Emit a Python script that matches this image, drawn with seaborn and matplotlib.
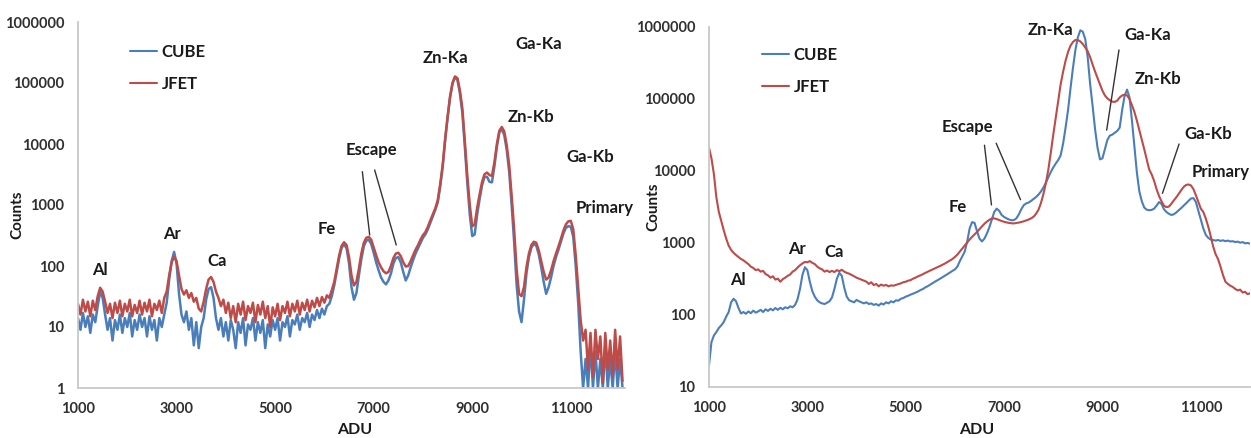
import numpy as np
import matplotlib
matplotlib.use("Agg")
import matplotlib.pyplot as plt
import seaborn as sns

# ---------------- data ----------------
adu = list(range(1000, 12051, 50))

left_cube = [
    14, 9, 17, 10, 15, 8, 16, 12, 22, 38,
    30, 16, 9, 14, 6, 13, 9, 16, 8, 14,
    10, 17, 7, 13, 9, 16, 10, 14, 7, 15,
    9, 13, 6, 14, 10, 16, 25, 60, 120, 170,
    110, 35, 16, 12, 18, 9, 14, 5, 12, 4.5,
    10, 14, 28, 42, 45, 30, 14, 9, 14, 7,
    12, 6, 13, 9, 4.5, 12, 8, 14, 5, 11,
    9, 14, 6, 12, 8, 13, 4.5, 11, 7, 13,
    9, 14, 6, 12, 10, 15, 7, 13, 11, 16,
    9, 14, 12, 17, 10, 16, 13, 19, 14, 20,
    16, 22, 24, 32, 48, 80, 135, 200, 225, 195,
    110, 45, 28, 36, 70, 130, 210, 260, 270, 230,
    165, 115, 85, 65, 55, 50, 58, 75, 110, 135,
    140, 115, 80, 58, 70, 95, 125, 160, 195, 240,
    290, 330, 400, 510, 650, 830, 1100, 2000, 4200, 11500,
    27000, 58000, 98000, 125000, 112000, 68000, 32000, 9000, 2300, 700,
    310, 330, 700, 1250, 2100, 2900, 2900, 2400, 2350, 4300,
    9000, 15500, 17500, 14000, 8000, 3500, 1000, 250, 50, 18,
    12, 28, 75, 140, 200, 230, 215, 155, 95, 55,
    35, 45, 65, 100, 140, 185, 250, 340, 420, 450,
    440, 300, 100, 25, 4, 1, 3, 1, 5, 1,
    4, 1, 3, 1, 5, 1, 3, 1, 4, 1,
    3, 1,
]

left_jfet = [
    24, 16, 28, 18, 26, 15, 27, 19, 32, 44,
    38, 26, 17, 24, 14, 25, 17, 27, 15, 24,
    18, 28, 15, 23, 17, 27, 16, 25, 18, 28,
    15, 24, 19, 27, 17, 30, 38, 70, 115, 142,
    120, 70, 42, 34, 40, 30, 36, 26, 30, 20,
    18, 26, 42, 60, 66, 55, 38, 30, 22, 28,
    17, 25, 14, 22, 12, 24, 16, 26, 13, 22,
    17, 25, 12, 23, 16, 26, 14, 22, 10, 21,
    15, 24, 13, 22, 17, 26, 15, 24, 18, 27,
    16, 25, 19, 28, 18, 27, 21, 30, 22, 31,
    25, 33, 30, 40, 55, 90, 150, 215, 245, 220,
    140, 70, 48, 55, 90, 160, 240, 290, 300, 270,
    200, 150, 115, 95, 82, 76, 80, 100, 135, 160,
    165, 145, 115, 98, 100, 120, 150, 185, 220, 270,
    320, 360, 440, 560, 700, 880, 1200, 2200, 4500, 12000,
    28000, 60000, 100000, 128000, 120000, 75000, 38000, 11000, 3000, 1000,
    450, 480, 900, 1500, 2400, 3200, 3400, 3100, 3000, 5000,
    10000, 16500, 19000, 16000, 9500, 4500, 1400, 400, 90, 35,
    32, 45, 95, 160, 220, 250, 240, 180, 120, 80,
    60, 65, 85, 120, 160, 210, 280, 380, 480, 540,
    550, 400, 150, 45, 13, 6, 9, 2, 8, 1.5,
    9, 3, 7, 1.2, 8, 2, 6, 1.5, 9, 2,
    7, 1.3,
]

right_cube = [
    20, 42, 52, 58, 66, 72, 80, 95, 110, 150,
    168, 155, 125, 105, 110, 104, 112, 106, 115, 108,
    112, 118, 110, 120, 114, 122, 116, 125, 118, 126,
    120, 128, 124, 132, 128, 138, 165, 230, 360, 460,
    420, 290, 215, 180, 160, 150, 145, 142, 148, 155,
    175, 230, 320, 385, 350, 240, 180, 160, 155, 150,
    162, 155, 150, 145, 150, 142, 145, 138, 142, 135,
    145, 140, 150, 145, 155, 150, 160, 158, 168, 172,
    180, 185, 192, 198, 205, 212, 222, 230, 242, 252,
    265, 278, 292, 305, 320, 335, 352, 370, 390, 410,
    430, 470, 560, 650, 760, 1050, 1600, 1950, 1900, 1450,
    1150, 1050, 1150, 1350, 1650, 2100, 2700, 3000, 2800, 2450,
    2300, 2200, 2120, 2070, 2080, 2200, 2500, 2950, 3350, 3550,
    3650, 3850, 4100, 4350, 4700, 5200, 5900, 6900, 8200, 9700,
    11200, 12700, 14200, 16500, 24000, 40000, 70000, 140000, 270000, 480000,
    720000, 900000, 860000, 680000, 380000, 160000, 80000, 38000, 21000, 14500,
    15000, 20000, 27000, 31000, 32000, 34000, 36000, 40000, 70000, 110000,
    135000, 105000, 50000, 22000, 9500, 5200, 3800, 3100, 2900, 2850,
    2880, 3000, 3300, 3700, 3500, 2950, 2700, 2550, 2450, 2500,
    2650, 2850, 3050, 3300, 3550, 3850, 4150, 4200, 3700, 2800,
    2100, 1600, 1300, 1180, 1120, 1100, 1080, 1100, 1070, 1090,
    1060, 1080, 1050, 1060, 1030, 1045, 1010, 1030, 990, 1000,
    980, 980,
]

right_jfet = [
    21000, 15000, 9000, 4300, 2700, 2000, 1500, 1150, 920, 800,
    730, 680, 640, 600, 575, 540, 510, 470, 450, 420,
    430, 400, 410, 370, 355, 330, 345, 310, 320, 290,
    315, 330, 350, 365, 400, 420, 455, 490, 520, 545,
    540, 560, 530, 510, 470, 445, 430, 400, 415, 395,
    410, 395, 420, 405, 425, 400, 385, 375, 360, 345,
    330, 320, 310, 300, 290, 270, 285, 260, 270, 250,
    265, 255, 262, 250, 258, 255, 262, 268, 275, 285,
    290, 300, 305, 320, 330, 345, 355, 370, 385, 400,
    415, 430, 445, 460, 480, 500, 520, 545, 570, 600,
    640, 690, 760, 840, 920, 1020, 1120, 1220, 1320, 1420,
    1560, 1700, 1850, 1980, 2100, 2180, 2200, 2150, 2080, 2020,
    1970, 1930, 1900, 1880, 1870, 1900, 1920, 1960, 2000, 2060,
    2120, 2200, 2320, 2550, 2900, 3600, 4800, 6800, 10500, 18000,
    32000, 55000, 95000, 160000, 240000, 340000, 450000, 550000, 620000, 660000,
    660000, 630000, 580000, 520000, 460000, 380000, 300000, 240000, 195000, 160000,
    130000, 112000, 102000, 96000, 92000, 91000, 95000, 105000, 112000, 115000,
    112000, 100000, 82000, 66000, 50000, 37000, 27000, 20000, 14500, 10500,
    9000, 7300, 5600, 4500, 3800, 3300, 3150, 3200, 3500, 3900,
    4300, 4800, 5400, 6000, 6400, 6500, 6300, 5600, 4600, 3700,
    3000, 2700, 2200, 1700, 1250, 900, 700, 600, 470, 360,
    290, 270, 255, 245, 230, 220, 225, 205, 210, 195,
    200, 190,
]

series_names = ["CUBE", "JFET"]
series_colors = ["#4a7ebb", "#be4b48"]

x_ticks = [1000, 3000, 5000, 7000, 9000, 11000]
left_y_ticks = [1, 10, 100, 1000, 10000, 100000, 1000000]
right_y_ticks = [10, 100, 1000, 10000, 100000, 1000000]

# annotation labels: (text, ADU, counts)
left_labels = [("Al", 1445, 86), ("Ar", 2900, 335), ("Ca", 3830, 121),
               ("Fe", 6056, 405), ("Escape", 6945, 7950), ("Zn-Ka", 8462, 256000),
               ("Ga-Ka", 10343, 437000), ("Zn-Kb", 10201, 27600),
               ("Ga-Kb", 11394, 6100), ("Primary", 11677, 890)]
left_leaders = [((6770, 3520), (6919, 322)), ((7020, 3750), (7458, 221))]

right_labels = [("Al", 1591, 306), ("Ar", 2792, 826), ("Ca", 3546, 750),
                ("Fe", 6051, 3160), ("Escape", 6255, 40800), ("Zn-Ka", 7945, 910000),
                ("Ga-Ka", 9921, 776000), ("Zn-Kb", 10124, 190000),
                ("Ga-Kb", 11143, 32600), ("Primary", 11407, 9800)]
right_leaders = [((6601, 22800), (6743, 3380)), ((6839, 24300), (7334, 4000)),
                 ((9336, 480000), (9086, 37000)), ((10558, 23700), (10220, 4900))]

# ---------------- style ----------------
sns.set_theme(style="white")
plt.rcParams["font.family"] = ["Lato", "DejaVu Sans"]
plt.rcParams["font.weight"] = "bold"

W, H = 1251, 438
fig = plt.figure(figsize=(W / 100, H / 100), dpi=100)

def px_axes(x0, x1, ytop, ybot):
    return fig.add_axes([x0 / W, 1 - ybot / H, (x1 - x0) / W, (ybot - ytop) / H])

axL = px_axes(78, 625, 22, 388)
axR = px_axes(709, 1250, 27, 387)

def style_axis(ax, yticks, ylim, xlim):
    ax.set_yscale("log")
    ax.set_xlim(*xlim)
    ax.set_ylim(*ylim)
    ax.set_xticks(x_ticks)
    ax.set_xticklabels([str(v) for v in x_ticks])
    ax.set_yticks(yticks)
    ax.set_yticklabels([str(v) for v in yticks])
    ax.minorticks_off()
    ax.tick_params(axis="both", length=0, labelsize=10.5, colors="#303030", pad=10)
    for lab in ax.get_xticklabels() + ax.get_yticklabels():
        lab.set_fontweight("bold")
    for s in ["top", "right"]:
        ax.spines[s].set_visible(False)
    for s in ["left", "bottom"]:
        ax.spines[s].set_color("#c8c8c8")
        ax.spines[s].set_linewidth(1.3)
    ax.grid(False)

def draw(ax, cube, jfet, lw):
    sns.lineplot(x=adu, y=cube, ax=ax, color=series_colors[0], linewidth=lw,
                 label=series_names[0], estimator=None, sort=False)
    sns.lineplot(x=adu, y=jfet, ax=ax, color=series_colors[1], linewidth=lw,
                 label=series_names[1], estimator=None, sort=False)

draw(axL, left_cube, left_jfet, 1.8)
draw(axR, right_cube, right_jfet, 1.5)

style_axis(axL, left_y_ticks, (1, 1000000), (1000, 12100))
style_axis(axR, right_y_ticks, (10, 1000000), (1000, 12000))

for ax, labels, leaders in [(axL, left_labels, left_leaders), (axR, right_labels, right_leaders)]:
    for txt, xv, yv in labels:
        ax.text(xv, yv, txt, ha="center", va="center", fontsize=12,
                fontweight="bold", color="#1a1a1a", clip_on=False)
    for (x0, y0), (x1, y1) in leaders:
        ax.plot([x0, x1], [y0, y1], color="#333333", linewidth=1.0)

# axis labels
for ax, yc, xc in [(axL, (-0.11, 0.473), (0.506, -0.115)), (axR, (-0.1035, 0.5), (0.495, -0.119))]:
    ax.set_ylabel("Counts", fontsize=11, fontweight="bold", color="#1a1a1a")
    ax.set_xlabel("ADU", fontsize=11.5, fontweight="bold", color="#1a1a1a")
    ax.yaxis.set_label_coords(*yc)
    ax.xaxis.set_label_coords(*xc)
    ax.xaxis.label.set_va("center")
    ax.yaxis.label.set_va("center")

# legends
for ax, (lx, ly) in [(axL, (130, 44)), (axR, (762, 47))]:
    leg = ax.legend(loc="upper left", bbox_to_anchor=(lx / W, 1 - ly / H),
                    bbox_transform=fig.transFigure, frameon=False,
                    fontsize=12, handlelength=1.6, handletextpad=0.3,
                    labelspacing=0.95, borderpad=0, borderaxespad=0)
    for t in leg.get_texts():
        t.set_fontweight("bold")
        t.set_color("#1a1a1a")
    for h in leg.get_lines():
        h.set_linewidth(1.5)

fig.savefig("out.png", dpi=100)
